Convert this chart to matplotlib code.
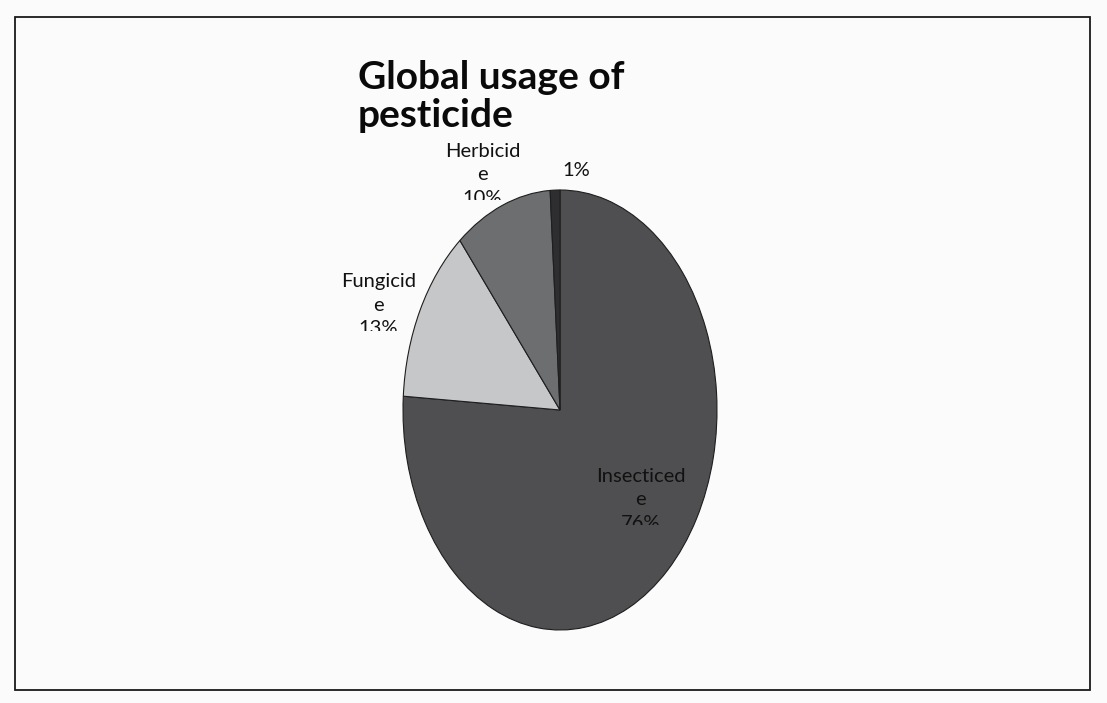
import numpy as np
import matplotlib.pyplot as plt
from matplotlib.patches import Rectangle
from matplotlib.transforms import Bbox

# Pie data
categories = ['Insecticede', 'Fungicide', 'Herbicide', '']
shares = [76, 13, 10, 1]
colors = ['#4f4f51', '#c6c7c9', '#6d6e70', '#2e2e30']
# label distance from centre (pie radii) and sideways nudge
label_dist = [0.56, 1.05, 1.15, 1.09]
label_dx = [0.13, -0.22, -0.07, 0.14]

W, H = 1107, 703
fig = plt.figure(figsize=(W / 100, H / 100), dpi=100)
fig.patch.set_facecolor('#fbfbfb')

# frame of the chart area
fig.patches.append(Rectangle((15 / W, 1 - 690 / H), 1075 / W, 673 / H,
                             transform=fig.transFigure, fill=False,
                             edgecolor='#1a1a1a', linewidth=1.3))

# the pie in the reference is squashed sideways (ellipse)
cx, cy, rx, ry = 560, 410, 157, 220
ax = fig.add_axes([(cx - rx) / W, 1 - (cy + ry) / H, 2 * rx / W, 2 * ry / H])
wedges, _ = ax.pie(shares, colors=colors, startangle=90, counterclock=False,
                   wedgeprops=dict(edgecolor='#1e1e1e', linewidth=0.8))
ax.set_aspect('auto')
ax.set_xlim(-1, 1)
ax.set_ylim(-1, 1)
ax.axis('off')

labels = []
for w, name, pct, d, dx in zip(wedges, categories, shares, label_dist, label_dx):
    mid = np.deg2rad((w.theta1 + w.theta2) / 2)
    x = d * np.cos(mid) + dx
    y = d * np.sin(mid)
    txt = f'{name[:-1]}\n{name[-1]}\n{pct}%' if name else f'{pct}%'
    t = ax.text(x, y, txt, ha='center', va='center', fontsize=14.5,
                family='Lato', color='#111111', linespacing=1.45,
                zorder=4, clip_on=False)
    labels.append((t, bool(name)))

fig.text(358 / W, 1 - 60 / H, 'Global usage of\npesticide', ha='left', va='top',
         fontsize=28, fontweight='bold', family='Lato', color='#0a0a0a',
         linespacing=1.12)

# the wrapped labels are cut off through their last line, like the original
fig.canvas.draw()
r = fig.canvas.get_renderer()
for t, wrapped in labels:
    if wrapped:
        bb = t.get_window_extent(r)
        t.set_clip_box(Bbox([[bb.x0 - 5, bb.y0 + bb.height * 0.10],
                             [bb.x1 + 5, bb.y1 + 5]]))
        t.set_clip_on(True)

fig.savefig('out.png', dpi=100, facecolor=fig.get_facecolor())
